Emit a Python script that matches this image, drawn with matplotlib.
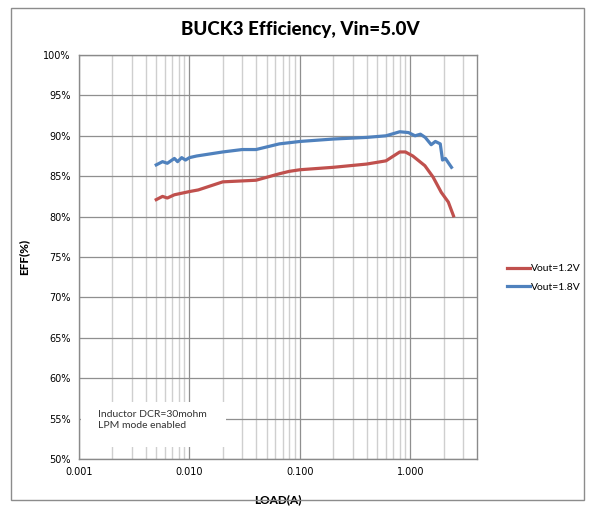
import matplotlib
matplotlib.use("Agg")
import matplotlib.pyplot as plt
from matplotlib.patches import Rectangle
from matplotlib.ticker import FixedLocator, FixedFormatter, NullFormatter

# Vout = 1.2V
load_12 = [0.005, 0.0057, 0.0063, 0.0073, 0.010, 0.012, 0.020, 0.040, 0.065, 0.080,
           0.100, 0.200, 0.400, 0.600, 0.800, 0.900, 1.05, 1.35, 1.60, 1.90, 2.20, 2.45]
eff_12 = [82.1, 82.5, 82.3, 82.7, 83.1, 83.3, 84.3, 84.5, 85.3, 85.6,
          85.8, 86.1, 86.5, 86.9, 88.0, 88.0, 87.5, 86.3, 84.9, 83.0, 81.8, 80.1]

# Vout = 1.8V
load_18 = [0.005, 0.0057, 0.0063, 0.0073, 0.0078, 0.0085, 0.0092, 0.010, 0.0116, 0.020,
           0.030, 0.040, 0.065, 0.100, 0.200, 0.400, 0.600, 0.800, 0.960, 1.10,
           1.23, 1.36, 1.54, 1.68, 1.86, 1.95, 2.07, 2.35]
eff_18 = [86.4, 86.8, 86.6, 87.2, 86.8, 87.3, 87.0, 87.3, 87.5, 88.0,
          88.3, 88.3, 89.0, 89.3, 89.6, 89.8, 90.0, 90.5, 90.4, 90.0,
          90.2, 89.8, 88.9, 89.3, 89.0, 87.0, 87.2, 86.1]

x_major = [0.001, 0.01, 0.1, 1.0]
x_labels = ["0.001", "0.010", "0.100", "1.000"]
y_ticks = [50, 55, 60, 65, 70, 75, 80, 85, 90, 95, 100]

plt.rcParams["font.family"] = ["Lato", "DejaVu Sans"]

fig = plt.figure(figsize=(5.94, 5.09), dpi=100)
ax = fig.add_axes([79 / 594, 1 - 459 / 509, 398 / 594, 404 / 509])

# outer chart frame
fig.patches.append(Rectangle((11 / 594, 1 - 500 / 509), 573 / 594, 492 / 509,
                             transform=fig.transFigure, fill=False,
                             edgecolor="#8c8c8c", linewidth=1))

ax.plot(load_12, eff_12, color="#C0504D", lw=2.3, label="Vout=1.2V", zorder=4)
ax.plot(load_18, eff_18, color="#4F81BD", lw=2.3, label="Vout=1.8V", zorder=4)

ax.set_xscale("log")
ax.set_xlim(0.001, 4.0)
ax.set_ylim(50, 100)

minor = [m * d for d in [0.001, 0.01, 0.1] for m in range(2, 10)] + [2.0, 3.0]
ax.xaxis.set_major_locator(FixedLocator(x_major))
ax.xaxis.set_major_formatter(FixedFormatter(x_labels))
ax.xaxis.set_minor_locator(FixedLocator(minor))
ax.xaxis.set_minor_formatter(NullFormatter())
ax.set_yticks(y_ticks)
ax.set_yticklabels([f"{v}%" for v in y_ticks])

ax.grid(True, which="major", color="#8f8f8f", lw=0.9, zorder=1)
ax.grid(True, which="minor", axis="x", color="#cfcfcf", lw=1.0, zorder=0)
ax.tick_params(which="both", length=0, pad=6)
for lbl in ax.get_xticklabels() + ax.get_yticklabels():
    lbl.set_fontfamily(["DejaVu Sans"])
    lbl.set_fontsize(7)
for s in ax.spines.values():
    s.set_color("#8a8a8a")
    s.set_linewidth(1.0)
    s.set_zorder(6)

ax.set_xlabel("LOAD(A)", fontsize=8.5, fontweight="black", labelpad=12)
ax.set_ylabel("EFF(%)", fontsize=8.5, fontweight="black", labelpad=10)
fig.text(0.505, 1 - 30 / 509, "BUCK3 Efficiency, Vin=5.0V", ha="center", va="center",
         fontsize=13.5, fontweight="black")

# note box
ax.add_patch(Rectangle((0.004, 0.03), 0.366, 0.11, transform=ax.transAxes,
                       facecolor="white", edgecolor="none", zorder=3))
ax.text(0.048, 0.109, "Inductor DCR=30mohm", transform=ax.transAxes, fontsize=7.5,
        va="center", color="#333333", zorder=5)
ax.text(0.048, 0.082, "LPM mode enabled", transform=ax.transAxes, fontsize=7.5,
        va="center", color="#333333", zorder=5)

fig.legend(loc="center left", bbox_to_anchor=(498 / 594, 1 - 278 / 509), frameon=False,
           fontsize=7.5, handlelength=2.2, handletextpad=0.1, labelspacing=0.9)

fig.savefig("out.png", dpi=100)
